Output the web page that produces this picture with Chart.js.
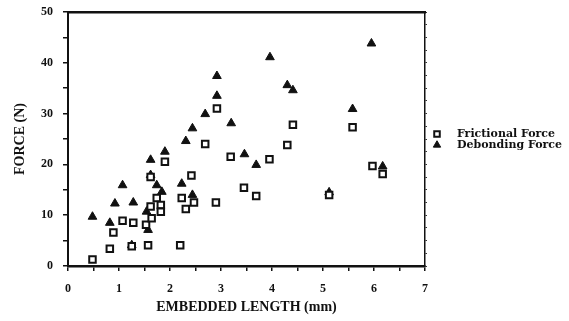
<!DOCTYPE html>
<html>
<head>
<meta charset="utf-8">
<script src="https://cdn.jsdelivr.net/npm/chart.js@4/dist/chart.umd.min.js"></script>
<style>
  html, body { margin: 0; padding: 0; background: #fff; }
  #wrap { width: 569px; height: 321px; position: relative; }
</style>
</head>
<body>
<div id="wrap"><canvas id="forceChart"></canvas></div>
<script>
// Embedded length (mm) vs force (N)
const frictionalLength = [0.48, 0.82, 0.89, 1.07, 1.28, 1.25, 1.53, 1.57, 1.62, 1.62, 1.64, 1.74, 1.82, 1.82, 1.90,
    2.23, 2.20, 2.31, 2.42, 2.47, 2.69, 2.90, 2.92, 3.19, 3.45, 3.69, 3.95, 4.30, 4.41, 5.12, 5.58, 5.97, 6.17];
const frictionalForce = [1.3, 3.4, 6.6, 8.9, 8.5, 3.9, 8.1, 4.1, 17.5, 11.7, 9.4, 13.4, 12.0, 10.7, 20.5,
    13.4, 4.1, 11.2, 17.8, 12.5, 24.0, 12.5, 31.0, 21.5, 15.4, 13.8, 21.0, 23.8, 27.8, 14.0, 27.3, 19.7, 18.1];

const debondingLength = [0.48, 0.82, 0.92, 1.07, 1.28, 1.25, 1.54, 1.57, 1.62, 1.62, 1.74, 1.84, 1.90, 2.23, 2.44,
    2.31, 2.44, 2.69, 2.92, 2.92, 3.20, 3.46, 3.69, 3.96, 4.30, 4.41, 5.12, 5.58, 5.95, 6.17];
const debondingForce = [9.7, 8.5, 12.3, 15.9, 12.5, 4.1, 10.7, 7.1, 20.9, 17.9, 15.9, 14.6, 22.5, 16.2, 14.0,
    24.6, 27.1, 29.9, 33.5, 37.4, 28.1, 22.0, 19.9, 41.1, 35.6, 34.6, 14.5, 30.9, 43.8, 19.6];

const seriesNames = ['Frictional Force', 'Debonding Force'];
const xTickValues = [0, 1, 2, 3, 4, 5, 6, 7];
const yTickValues = [0, 10, 20, 30, 40, 50];

const toPoints = (xs, ys) => xs.map((x, i) => ({ x: x, y: ys[i] }));

const serif = "'Liberation Serif', 'DejaVu Serif', serif";

// fixed axis thickness, no extra label overhang padding
const fixSize = (prop, size) => s => {
    s[prop] = size;
    s.paddingTop = 0;
    s.paddingBottom = 0;
    s.paddingLeft = 0;
    s.paddingRight = 0;
};

// legend drawn to the right of the frame
const sideLegend = {
    id: 'sideLegend',
    afterDraw(chart) {
        const ctx = chart.ctx;
        const left = chart.chartArea.right;
        const rows = [134, 145];
        ctx.save();
        chart.data.datasets.forEach((ds, i) => {
            const style = {
                pointStyle: ds.pointStyle,
                radius: ds.pointRadius * 0.85,
                borderWidth: ds.borderWidth,
                rotation: 0
            };
            ctx.fillStyle = ds.backgroundColor;
            ctx.strokeStyle = ds.borderColor;
            ctx.lineWidth = ds.borderWidth;
            Chart.helpers.drawPoint(ctx, style, left + 12, rows[i]);
            ctx.fillStyle = '#111';
            ctx.font = "bold 11px 'DejaVu Serif', serif";
            ctx.textAlign = 'left';
            ctx.textBaseline = 'middle';
            ctx.fillText(ds.label, left + 32, rows[i]);
        });
        ctx.restore();
    }
};

new Chart(document.getElementById('forceChart'), {
    type: 'scatter',
    data: {
        datasets: [
            {
                label: seriesNames[0],
                data: toPoints(frictionalLength, frictionalForce),
                pointStyle: 'rect',
                pointRadius: 4.6,
                borderWidth: 2,
                borderColor: '#111',
                backgroundColor: '#fff'
            },
            {
                label: seriesNames[1],
                data: toPoints(debondingLength, debondingForce),
                pointStyle: 'triangle',
                pointRadius: 5,
                borderWidth: 1,
                borderColor: '#111',
                backgroundColor: '#111'
            }
        ]
    },
    options: {
        responsive: true,
        maintainAspectRatio: false,
        animation: false,
        clip: false,
        layout: { autoPadding: false, padding: { left: 0, right: 140, top: 0, bottom: 0 } },
        plugins: {
            legend: { display: false },
            tooltip: { enabled: false }
        },
        scales: {
            x: {
                type: 'linear',
                position: 'bottom',
                min: 0,
                max: 7,
                afterFit: fixSize('height', 55),
                ticks: {
                    stepSize: 0.5,
                    autoSkip: false,
                    maxRotation: 0,
                    padding: 11,
                    color: '#111',
                    font: { family: serif, size: 12, weight: 'bold' },
                    callback: v => xTickValues.includes(v) ? String(v) : ''
                },
                grid: { drawOnChartArea: false, drawTicks: true, tickLength: 5, color: '#111', lineWidth: 1.5 },
                border: { display: true, color: '#111', width: 2.5 },
                title: {
                    display: true,
                    text: 'EMBEDDED LENGTH (mm)',
                    color: '#111',
                    font: { family: serif, size: 14, weight: 'bold' },
                    padding: { top: 0, bottom: 5 }
                }
            },
            y: {
                type: 'linear',
                position: 'left',
                min: 0,
                max: 50,
                afterFit: fixSize('width', 68),
                ticks: {
                    stepSize: 5,
                    autoSkip: false,
                    padding: 10,
                    color: '#111',
                    font: { family: serif, size: 12, weight: 'bold' },
                    callback: v => yTickValues.includes(v) ? String(v) : ''
                },
                grid: { drawOnChartArea: false, drawTicks: true, tickLength: 5, color: '#111', lineWidth: 1.5 },
                border: { display: true, color: '#111', width: 2 },
                title: {
                    display: true,
                    text: 'FORCE (N)',
                    color: '#111',
                    font: { family: serif, size: 14, weight: 'bold' },
                    padding: { top: 12, bottom: 0 }
                }
            },
            xTop: {
                type: 'linear',
                position: 'top',
                min: 0,
                max: 7,
                afterFit: fixSize('height', 12),
                ticks: { display: false },
                grid: { drawOnChartArea: false, drawTicks: false },
                border: { display: true, color: '#111', width: 2.5 }
            },
            yRight: {
                type: 'linear',
                position: 'right',
                min: 0,
                max: 50,
                afterFit: fixSize('width', 4),
                ticks: { display: false, stepSize: 2.5 },
                grid: { drawOnChartArea: false, drawTicks: true, tickLength: 2, color: '#333', lineWidth: 1 },
                border: { display: true, color: '#111', width: 1.5 }
            }
        }
    },
    plugins: [sideLegend]
});
</script>
</body>
</html>
